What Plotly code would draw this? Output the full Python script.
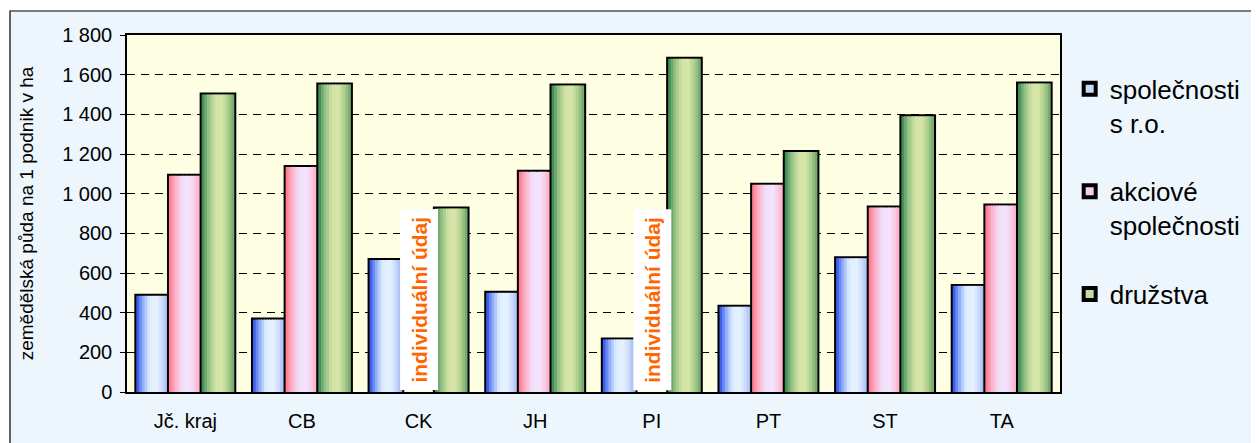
import plotly.graph_objects as go

regions = ["Jč. kraj", "CB", "CK", "JH", "PI", "PT", "ST", "TA"]
sro = [485, 365, 665, 500, 265, 430, 675, 535]
akciove = [1090, 1135, None, 1110, None, 1045, 930, 940]
druzstva = [1500, 1550, 925, 1545, 1680, 1210, 1390, 1555]
series_names = ["společnosti<br>s r.o.", "akciové<br>společnosti", "družstva"]
missing_note = "individuální údaj"

# horizontal gradient of each bar: (position, colour)
gradients = [
    [(0.0, (40, 75, 235)), (0.18, (135, 165, 248)), (0.4, (222, 238, 255)),
     (0.62, (230, 242, 255)), (0.82, (200, 215, 250)), (1.0, (145, 168, 240))],
    [(0.0, (255, 115, 130)), (0.18, (252, 172, 198)), (0.4, (242, 222, 248)),
     (0.62, (242, 228, 255)), (0.82, (250, 200, 225)), (1.0, (255, 155, 175))],
    [(0.0, (50, 130, 78)), (0.18, (138, 188, 128)), (0.42, (212, 228, 165)),
     (0.62, (214, 230, 168)), (0.82, (168, 204, 138)), (1.0, (105, 160, 105))],
]
mid_colours = ["#c8dafa", "#f6d0e8", "#c4dc9c"]

# the page body adds an 8 px margin, so the figure is laid out 8 px smaller
page_pad = 8


def colour_at(stops, t):
    for (p0, c0), (p1, c1) in zip(stops, stops[1:]):
        if p0 <= t <= p1:
            f = (t - p0) / (p1 - p0)
            r, g, b = (round(a + (b - a) * f) for a, b in zip(c0, c1))
            return f"rgb({r},{g},{b})"
    return "rgb(%d,%d,%d)" % stops[-1][1]


def main():
    fig = go.Figure()
    w = 0.28
    k_stripes = 12
    values = [sro, akciove, druzstva]

    for s, (vals, name) in enumerate(zip(values, series_names)):
        left = (s - 1.5) * w
        # outline + legend entry
        fig.add_trace(go.Bar(x=regions, y=vals, name=name, offset=left, width=w,
                             marker=dict(color=mid_colours[s],
                                         line=dict(color="black", width=4)),
                             legendgroup=str(s), hoverinfo="skip"))
        # gradient stripes
        sw = w / k_stripes
        for k in range(k_stripes):
            t = (k + 0.5) / k_stripes
            width = sw * 1.4 if k < k_stripes - 1 else sw
            fig.add_trace(go.Bar(x=regions, y=vals, offset=left + k * sw, width=width,
                                 marker=dict(color=colour_at(gradients[s], t),
                                             line=dict(width=0)),
                                 showlegend=False, legendgroup=str(s),
                                 hoverinfo="skip"))

    for reg, v in zip(regions, akciove):
        if v is None:
            fig.add_annotation(x=reg, y=0, xref="x", yref="y", text=f"<b>{missing_note}</b>",
                               textangle=-90, showarrow=False, xanchor="center",
                               yanchor="bottom", yshift=1, bgcolor="white", borderpad=7,
                               font=dict(size=21, color="#ff6600"))

    # white surround and outer frame of the chart area
    fig.add_shape(type="rect", xref="paper", yref="paper", x0=-0.2, x1=-0.1254,
                  y0=-0.3, y1=1.2, fillcolor="white", line=dict(width=0), layer="below")
    fig.add_shape(type="rect", xref="paper", yref="paper", x0=-0.2, x1=1.3,
                  y0=1.0672, y1=1.2, fillcolor="white", line=dict(width=0), layer="below")
    fig.add_shape(type="rect", xref="paper", yref="paper", x0=-0.1254, x1=1.3,
                  y0=-0.3, y1=1.0672, fillcolor="rgba(0,0,0,0)",
                  line=dict(color="black", width=1.2), layer="above")

    fig.update_layout(
        width=1259 - page_pad, height=443 - page_pad,
        margin=dict(l=127 - page_pad, r=199, t=35 - page_pad, b=51),
        barmode="overlay",
        separators=", ",
        paper_bgcolor="#edf6fc",
        plot_bgcolor="#fefee2",
        font=dict(family="Liberation Sans, Arial, sans-serif", size=20, color="black"),
        legend=dict(x=1.199, y=0.915, xanchor="right", yanchor="top",
                    bgcolor="rgba(0,0,0,0)", font=dict(size=26),
                    traceorder="grouped", tracegroupgap=32, valign="top"),
        showlegend=True,
    )
    fig.update_xaxes(showline=True, linecolor="black", linewidth=1.5, mirror=True,
                     ticks="outside", ticklen=10, tickcolor="rgba(0,0,0,0)",
                     showgrid=False, tickfont=dict(size=20))
    fig.update_yaxes(range=[0, 1800], dtick=200, tickformat=",d",
                     showline=True, linecolor="black", linewidth=1.5, mirror=True,
                     ticks="outside", ticklen=5, tickcolor="black",
                     ticklabelstandoff=4,
                     showgrid=True, gridcolor="black", gridwidth=1, griddash="8px,6px",
                     zeroline=False, tickfont=dict(size=20),
                     title=dict(text="zemědělská půda na 1 podnik v ha",
                                font=dict(size=19), standoff=24))

    fig.write_html("out.html")


if __name__ == '__main__':
    main()
